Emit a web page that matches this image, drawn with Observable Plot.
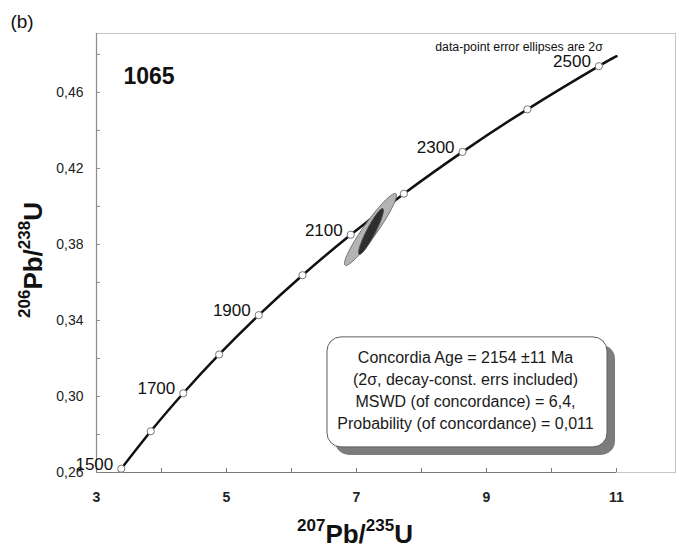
<!DOCTYPE html>
<html>
<head>
<meta charset="utf-8">
<script src="https://cdn.jsdelivr.net/npm/d3@7"></script>
<script src="https://cdn.jsdelivr.net/npm/@observablehq/plot@0.6"></script>
<style>
  html, body { margin: 0; padding: 0; background: #fff; }
  #chart { width: 679px; height: 548px; }
</style>
</head>
<body>
<div id="chart"></div>
<script>
// Concordia reference points: age (Ma) and the two isotope ratios
const ages = [1500, 1600, 1700, 1800, 1900, 2000, 2100, 2200, 2300, 2400, 2500];
const pb207U235 = [3.381, 3.835, 4.335, 4.887, 5.496, 6.169, 6.911, 7.729, 8.632, 9.629, 10.729];
const pb206U238 = [0.2620, 0.2817, 0.3017, 0.3221, 0.3428, 0.3638, 0.3851, 0.4067, 0.4287, 0.4511, 0.4738];
const labelledAges = [1500, 1700, 1900, 2100, 2300, 2500];
// the concordia keeps going a little past the last age marker
const curveTailX = [11.0];
const curveTailY = [0.4790];

// error ellipses: the data point (2σ) and the concordia age
const ellipseNames = ["data point", "concordia age"];
const ellipseX = [7.215, 7.223];
const ellipseY = [0.3879, 0.3868];
const ellipseSx = [0.400, 0.192];
const ellipseSy = [0.01895, 0.0121];
const ellipseRho = [0.945, 0.918];

// axis ticks
const xTicks = [3, 5, 7, 9, 11];
const xMinorTicks = [4, 6, 8, 10];
const yTicks = [0.26, 0.30, 0.34, 0.38, 0.42, 0.46];
const yTickLabels = ["0,26", "0,30", "0,34", "0,38", "0,42", "0,46"];
const yMinorTicks = [0.28, 0.32, 0.36, 0.40, 0.44, 0.48];

// annotations
const panelTag = "(b)";
const sampleName = "1065";
const ellipseNote = "data-point error ellipses are 2σ";
const resultLines = [
  "Concordia Age = 2154 ±11 Ma",
  "(2σ, decay-const. errs included)",
  "MSWD (of concordance) = 6,4,",
  "Probability (of concordance) = 0,011"
];

// tables built from the arrays above
const points = ages.map((age, i) => ({age, x: pb207U235[i], y: pb206U238[i]}));
const curve = points.concat(curveTailX.map((x, i) => ({x, y: curveTailY[i]})));
const labelled = points.filter(d => labelledAges.includes(d.age));

// outline of a correlated error ellipse in data units
function ellipseOutline(k) {
  const r = ellipseRho[k], q = Math.sqrt(1 - r * r);
  return d3.range(0, 361, 3).map(deg => {
    const t = deg * Math.PI / 180;
    return {
      name: ellipseNames[k],
      x: ellipseX[k] + ellipseSx[k] * Math.cos(t),
      y: ellipseY[k] + ellipseSy[k] * (r * Math.cos(t) + q * Math.sin(t))
    };
  });
}
const dataEllipse = ellipseOutline(0);
const ageEllipse = ellipseOutline(1);

const font = "'Liberation Sans', Arial, Helvetica, sans-serif";

const chart = Plot.plot({
  width: 679,
  height: 548,
  marginLeft: 96,
  marginRight: 4,
  marginTop: 33,
  marginBottom: 76,
  style: {fontFamily: font, background: "#fff", color: "#111", overflow: "visible"},
  x: {domain: [3, 11.908], axis: null},
  y: {domain: [0.26, 0.491], axis: null},
  marks: [
    Plot.frame({stroke: "#c4c4c4"}),
    // axis lines
    Plot.ruleX([3], {y1: 0.26, y2: 0.491, stroke: "#8c8c8c", strokeWidth: 1.2}),
    Plot.ruleY([0.26], {x1: 3, x2: 11, stroke: "#7a7a7a", strokeWidth: 1.2}),
    // inward tick marks
    Plot.ruleX(xTicks.concat(xMinorTicks), {x: d => d, y1: 0.26, y2: 0.26 + 4 / 1900, stroke: "#7a7a7a"}),
    Plot.ruleY(yTicks.concat(yMinorTicks), {y: d => d, x1: 3, x2: 3 + 4 / 65, stroke: "#8c8c8c"}),
    // tick labels
    Plot.text(yTicks, {x: 3, y: d => d, text: (d, i) => yTickLabels[i], dx: -13, textAnchor: "end", fontSize: 14, fill: "#222"}),
    Plot.text(xTicks, {x: d => d, y: 0.26, text: d => String(d), dy: 25.5, fontSize: 14, fontWeight: "bold", fill: "#222"}),
    // result box with drop shadow
    Plot.rect([0], {x1: 6.554, x2: 10.862, y1: 0.2732, y2: 0.3311, rx: 14, dx: 8, dy: 8, fill: "#7c7c7c"}),
    Plot.rect([0], {x1: 6.554, x2: 10.862, y1: 0.2732, y2: 0.3311, rx: 14, fill: "#fff", stroke: "#5c5c5c", strokeWidth: 1}),
    Plot.text(resultLines, {x: 8.677, y: (d, i) => 0.31737 - i * 0.01142, text: d => d, fontSize: 16, lineAnchor: "bottom", fill: "#1a1a1a"}),
    // concordia curve
    Plot.line(curve, {x: "x", y: "y", curve: "natural", stroke: "#111", strokeWidth: 2.5}),
    // error ellipses
    Plot.line(dataEllipse, {x: "x", y: "y", fill: "#b4b4b4", stroke: "#6e6e6e", strokeWidth: 1}),
    Plot.line(ageEllipse, {x: "x", y: "y", fill: "#2e2e2e", stroke: "#555", strokeWidth: 1}),
    // age markers and labels
    Plot.dot(points, {x: "x", y: "y", r: 3.6, fill: "#fff", stroke: "#777", strokeWidth: 1}),
    Plot.text(labelled, {x: "x", y: "y", text: d => String(d.age), dx: -8, dy: 1, textAnchor: "end", lineAnchor: "bottom", fontSize: 17, fill: "#111"}),
    // annotations
    Plot.text([sampleName], {x: 3.415, y: 0.4642, text: d => d, textAnchor: "start", lineAnchor: "bottom", fontSize: 23, fontWeight: "bold", fill: "#111"}),
    Plot.text([ellipseNote], {x: 9.5, y: 0.48105, dy: -1, text: d => d, lineAnchor: "bottom", fontSize: 12.3, fill: "#111"})
  ]
});

document.getElementById("chart").appendChild(chart);

// panel tag and axis titles with superscript mass numbers
const svg = d3.select(chart);
svg.append("text")
  .attr("x", 22).attr("y", 28)
  .attr("font-family", font).attr("font-size", 19).attr("fill", "#111")
  .text(panelTag);

function isotopeTitle(sel, a, b) {
  sel.attr("font-family", font).attr("font-weight", "bold").attr("font-size", 26)
    .attr("fill", "#111").attr("text-anchor", "middle");
  sel.append("tspan").attr("font-size", 17).attr("dy", -12).text(a);
  sel.append("tspan").attr("dy", 12).text("Pb/");
  sel.append("tspan").attr("font-size", 17).attr("dy", -12).text(b);
  sel.append("tspan").attr("dy", 12).text("U");
}

isotopeTitle(svg.append("text").attr("x", 355).attr("y", 543), "207", "235");
isotopeTitle(svg.append("text").attr("transform", "translate(42,260) rotate(-90)"), "206", "238");
</script>
</body>
</html>
